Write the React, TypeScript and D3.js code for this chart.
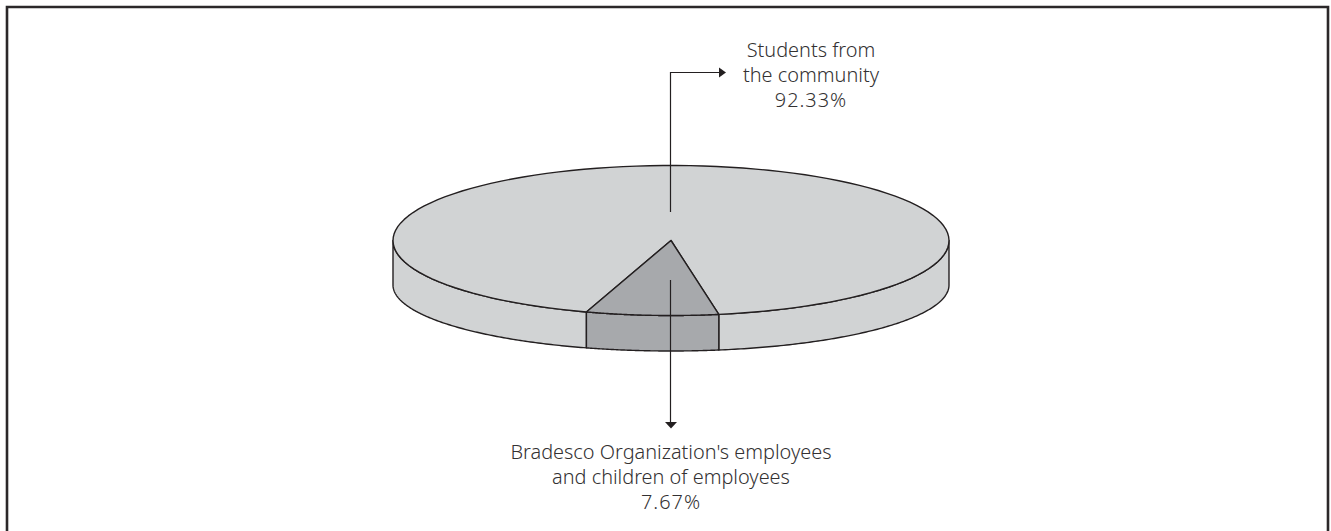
import React from "react";
import * as d3 from "d3";

const categories = ["Bradesco Organization's employees and children of employees", "Students from the community"];
const shares = [7.67, 92.33];
const bottomLabel = ["Bradesco Organization's employees", "and children of employees", "7.67%"];
const topLabel = ["Students from", "the community", "92.33%"];

const W = 1331, H = 531;
const cx = 671, cy = 240.5, rx = 278, ry = 75;
const sideBottomCy = 285, sideBottomRy = 66;
const INK = "#231f20";
const LIGHT = "#d1d3d4";
const DARK = "#a7a9ac";
const DEG = Math.PI / 180;
const start = 170.1 * DEG;

const pie = d3.pie<number>().sort(null).startAngle(start).endAngle(start + 2 * Math.PI);
const arcs = pie(shares);

const sx = d3.scaleLinear().domain([-1, 1]).range([cx - rx, cx + rx]);
const px = (a: number) => sx(Math.sin(a));
const topY = (a: number) => cy - ry * Math.cos(a);
const botY = (a: number) => sideBottomCy - sideBottomRy * Math.cos(a);

const samples = (a0: number, a1: number) => d3.range(0, 121).map((i) => a0 + ((a1 - a0) * i) / 120);
const line = d3.line<[number, number]>();

const topArc = (a0: number, a1: number) => samples(a0, a1).map((a) => [px(a), topY(a)] as [number, number]);
const botArc = (a0: number, a1: number) => samples(a0, a1).map((a) => [px(a), botY(a)] as [number, number]);
const wedgeTop = (a0: number, a1: number) => line([[cx, cy], ...topArc(a0, a1)]) + "Z";
const sidePanel = (a0: number, a1: number) => line([...topArc(a0, a1), ...botArc(a1, a0)]) + "Z";

export default function App() {
  const [small, big] = arcs;
  const s0 = small.startAngle, s1 = small.endAngle;
  const leftEnd = 270 * DEG, rightStart = 90 * DEG;
  const textStyle = { fontFamily: "'Noto Sans', 'Open Sans', sans-serif", fontSize: 19.9, fontWeight: 300, fill: "#333132" };
  const pctStyle = { ...textStyle, letterSpacing: "1px" };
  return (
    <svg width={W} height={H} style={{ position: "absolute", left: 0, top: 0 }} data-cats={categories.length}>
      <rect width={W} height={H} fill="#fff" />
      <path d={`M7 ${H}V7H1328V${H}`} fill="none" stroke="#2b2829" strokeWidth={2.6} />
      {/* sides */}
      <path d={sidePanel(s1, leftEnd)} fill={LIGHT} stroke={INK} strokeWidth={1.4} strokeLinejoin="round" />
      <path d={sidePanel(rightStart, s0)} fill={LIGHT} stroke={INK} strokeWidth={1.4} strokeLinejoin="round" />
      <path d={sidePanel(s0, s1)} fill={DARK} stroke={INK} strokeWidth={1.4} strokeLinejoin="round" />
      {/* top */}
      <path d={wedgeTop(big.startAngle, big.endAngle)} fill={LIGHT} stroke={INK} strokeWidth={1.4} strokeLinejoin="round" />
      <path d={wedgeTop(s0, s1)} fill={DARK} stroke={INK} strokeWidth={1.4} strokeLinejoin="round" />
      {/* leaders */}
      <path d="M670.5 212V72.5H720" fill="none" stroke={INK} strokeWidth={1.2} />
      <path d="M719 67.5L726 72.5L719 77.5Z" fill={INK} />
      <path d="M670.5 280V423" fill="none" stroke={INK} strokeWidth={1.2} />
      <path d="M665 422H677L671 428.5Z" fill={INK} />
      {/* labels */}
      {topLabel.map((t, i) => (
        <text key={t} x={811} y={57 + i * 25} textAnchor="middle" style={i === 2 ? pctStyle : textStyle}>{t}</text>
      ))}
      {bottomLabel.map((t, i) => (
        <text key={t} x={671} y={459 + i * 25} textAnchor="middle" style={i === 2 ? pctStyle : textStyle}>{t}</text>
      ))}
    </svg>
  );
}
